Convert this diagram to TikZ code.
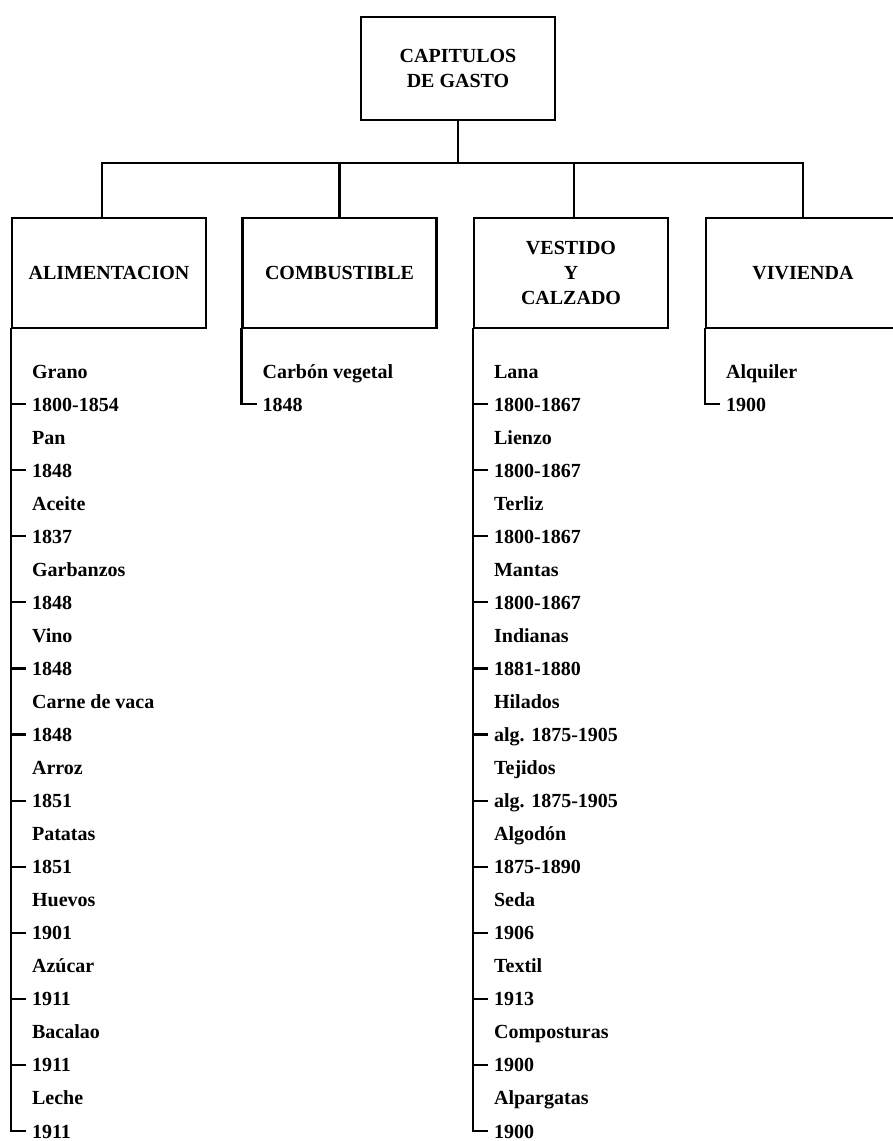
\documentclass[tikz,border=0pt]{standalone}
\usepackage{fontspec}
\newfontfamily\dfont{Liberation Serif}
\usetikzlibrary{calc}
\tikzset{
  x=1pt, y=-1pt,
  ln/.style={line width=2.2pt, line cap=rect},
  box/.style={draw, line width=2.2pt, minimum width=194pt, minimum height=110pt,
    align=center, inner sep=0pt, font=\dfont\bfseries\fontsize{20}{25}\selectfont},
  topbox/.style={box, minimum height=103pt},
  itm/.style={anchor=west, inner sep=0pt, text height=14pt, text depth=0pt,
    font=\dfont\bfseries\fontsize{20}{25}\selectfont},
  yr/.style={itm, inner xsep=7pt}
}
\newcommand\mklist[4]{%
  \foreach \a/\b [count=\i from 0] in {#3} {
    \node[itm] (#2n\i) at ($(#1.south west)+(21,42+66.08*\i)$) {\a};
    \node[yr] (#2y\i) at ($(#1.south west)+(14,75.04+66.08*\i)$) {\b};
    \draw[ln] (#1.south west |- #2y\i.west) -- (#2y\i.west);
  }
  \draw[ln] (#1.south west) |- (#2y#4.west);
}
\begin{document}
\begin{tikzpicture}
\useasboundingbox (0,0) rectangle (893,1141);
\node[topbox] (top) at (458,68.5) {CAPITULOS\\DE GASTO};
\node[box] (alim) at (109,273) {ALIMENTACION};
\node[box] (comb) at (339.5,273) {COMBUSTIBLE};
\node[box] (vest) at (571,273) {VESTIDO\\Y\\CALZADO};
\node[box] (viv) at (803,273) {VIVIENDA};
\coordinate (j) at (457,163);
\draw[ln] (top.south) -- (top.south |- j);
\draw[ln] ([xshift=-7pt]alim.north) |- (j);
\draw[ln] (comb.north) |- (j);
\draw[ln] ([xshift=3pt]vest.north) |- (j);
\draw[ln] (viv.north) |- (j);
\mklist{alim}{a}{Grano/1800-1854, Pan/1848, Aceite/1837, Garbanzos/1848, Vino/1848,
  Carne de vaca/1848, Arroz/1851, Patatas/1851, Huevos/1901, Azúcar/1911,
  Bacalao/1911, Leche/1911}{11}
\mklist{comb}{c}{Carbón vegetal/1848}{0}
\mklist{vest}{v}{Lana/1800-1867, Lienzo/1800-1867, Terliz/1800-1867, Mantas/1800-1867,
  Indianas/1881-1880, Hilados/alg. 1875-1905, Tejidos/alg. 1875-1905,
  Algodón/1875-1890, Seda/1906, Textil/1913, Composturas/1900, Alpargatas/1900}{11}
\mklist{viv}{w}{Alquiler/1900}{0}
\end{tikzpicture}
\end{document}
